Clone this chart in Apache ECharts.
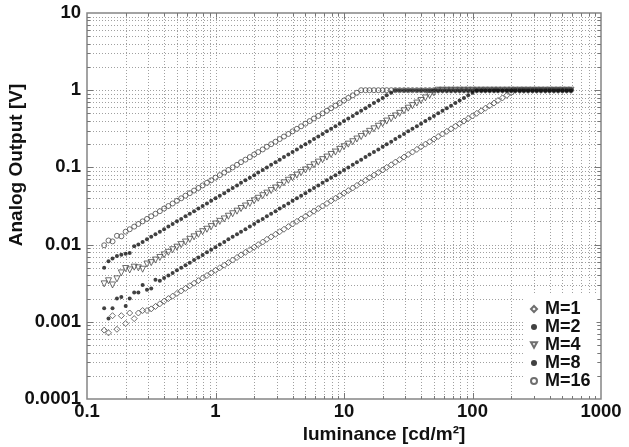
<!DOCTYPE html>
<html><head><meta charset="utf-8">
<script src="https://cdn.jsdelivr.net/npm/echarts@6/dist/echarts.min.js"></script>
<style>html,body{margin:0;padding:0;background:#fff}#c{width:629px;height:447px}</style>
</head><body><div id="c"></div>
<script>
const luminance = [
0.136,0.147,0.158,0.171,0.185,0.200,0.215,0.233,0.251,0.271,0.293,0.316,0.341,0.369,0.398,0.430,0.464,0.501,0.541,0.584,0.631,0.681,0.736,0.794,0.858,0.926,
1.00,1.08,1.17,1.26,1.36,1.47,1.58,1.71,1.85,2.00,2.15,2.33,2.51,2.71,2.93,3.16,3.41,3.69,3.98,4.30,4.64,5.01,5.41,5.84,6.31,6.81,7.36,7.94,8.58,9.26,
10.0,10.8,11.7,12.6,13.6,14.7,15.8,17.1,18.5,20.0,21.5,23.3,25.1,27.1,29.3,31.6,34.1,36.9,39.8,43.0,46.4,50.1,54.1,58.4,63.1,68.1,73.6,79.4,85.8,92.6,
100,108,117,126,136,147,158,171,185,200,215,233,251,271,293,316,341,369,398,430,464,501,541,584];

const outM1 = [
0.00078,0.00072,0.0012,0.00080,0.0012,0.00095,
0.0013,0.0011,0.0013,0.0014,0.0014,0.00147,0.00158,0.00171,0.00185,0.00200,0.00215,0.00233,0.00251,0.00271,0.00293,0.00316,0.00341,0.00369,0.00398,0.00430,0.00464,0.00501,0.00541,0.00584,0.00631,0.00681,0.00736,0.00794,0.00858,0.00926,
0.0100,0.0108,0.0117,0.0126,0.0136,0.0147,0.0158,0.0171,0.0185,0.0200,0.0215,0.0233,0.0251,0.0271,0.0293,0.0316,0.0341,0.0369,0.0398,0.0430,0.0464,0.0501,0.0541,0.0584,0.0631,0.0681,0.0736,0.0794,0.0858,0.0926,
0.100,0.108,0.117,0.126,0.136,0.147,0.158,0.171,0.185,0.200,0.215,0.233,0.251,0.271,0.293,0.316,0.341,0.369,0.398,0.430,0.464,0.501,0.541,0.584,0.631,0.681,0.736,0.794,0.858,0.926,
1,1,1,1,1,1,1,1,1,1,1,1,1,1];

const outM2 = [
0.0015,0.0011,0.0015,0.0020,0.0021,0.0016,0.0020,0.0024,0.0024,0.0030,0.0026,0.0027,0.0035,0.0034,0.00369,0.00398,0.00430,0.00464,0.00501,0.00541,0.00584,0.00631,0.00681,0.00736,0.00794,0.00858,0.00926,
0.0100,0.0108,0.0117,0.0126,0.0136,0.0147,0.0158,0.0171,0.0185,0.0200,0.0215,0.0233,0.0251,0.0271,0.0293,0.0316,0.0341,0.0369,0.0398,0.0430,0.0464,0.0501,0.0541,0.0584,0.0631,0.0681,0.0736,0.0794,0.0858,0.0926,
0.100,0.108,0.117,0.126,0.136,0.147,0.158,0.171,0.185,0.200,0.215,0.233,0.251,0.271,0.293,0.316,0.341,0.369,0.398,0.430,0.464,0.501,0.541,0.584,0.631,0.681,0.736,0.794,0.858,0.926,
1,1,1,1,1,1,1,1,1,1,1,1,1,1,1,1,1,1,1,1,1,1,1];

const outM4 = [
0.0031,0.0034,0.0030,0.0036,0.0043,0.0049,0.0047,0.0051,0.0050,0.0048,0.0056,0.00584,0.00631,0.00681,0.00736,0.00794,0.00858,0.00926,
0.0100,0.0108,0.0117,0.0126,0.0136,0.0147,0.0158,0.0171,0.0185,0.0200,0.0215,0.0233,0.0251,0.0271,0.0293,0.0316,0.0341,0.0369,0.0398,0.0430,0.0464,0.0501,0.0541,0.0584,0.0631,0.0681,0.0736,0.0794,0.0858,0.0926,
0.100,0.108,0.117,0.126,0.136,0.147,0.158,0.171,0.185,0.200,0.215,0.233,0.251,0.271,0.293,0.316,0.341,0.369,0.398,0.430,0.464,0.501,0.541,0.584,0.631,0.681,0.736,0.794,0.858,0.926,
1,1,1,1,1,1,1,1,1,1,1,1,1,1,1,1,1,1,1,1,1,1,1,1,1,1,1,1,1,1,1,1];

const outM8 = [
0.0050,0.0061,0.0066,0.0071,0.0074,0.0076,0.0078,0.0095,
0.0100,0.0108,0.0117,0.0126,0.0136,0.0147,0.0158,0.0171,0.0185,0.0200,0.0215,0.0233,0.0251,0.0271,0.0293,0.0316,0.0341,0.0369,0.0398,0.0430,0.0464,0.0501,0.0541,0.0584,0.0631,0.0681,0.0736,0.0794,0.0858,0.0926,
0.100,0.108,0.117,0.126,0.136,0.147,0.158,0.171,0.185,0.200,0.215,0.233,0.251,0.271,0.293,0.316,0.341,0.369,0.398,0.430,0.464,0.501,0.541,0.584,0.631,0.681,0.736,0.794,0.858,0.926,
1,1,1,1,1,1,1,1,1,1,1,1,1,1,1,1,1,1,1,1,1,1,1,1,1,1,1,1,1,1,1,1,1,1,1,1,1,1,1,1,1,1];

const outM16 = [
0.0098,0.0113,0.0110,0.0130,0.0128,0.0147,0.0158,0.0171,0.0185,0.0200,0.0215,0.0233,0.0251,0.0271,0.0293,0.0316,0.0341,0.0369,0.0398,0.0430,0.0464,0.0501,0.0541,0.0584,0.0631,0.0681,0.0736,0.0794,0.0858,0.0926,
0.100,0.108,0.117,0.126,0.136,0.147,0.158,0.171,0.185,0.200,0.215,0.233,0.251,0.271,0.293,0.316,0.341,0.369,0.398,0.430,0.464,0.501,0.541,0.584,0.631,0.681,0.736,0.794,0.858,0.926,
1,1,1,1,1,1,1,1,1,1,1,1,1,1,1,1,1,1,1,1,1,1,1,1,1,1,1,1,1,1,1,1,1,1,1,1,1,1,1,1,1,1,1,1,1,1,1,1,1,1];

const seriesNames = ['M=1','M=2','M=4','M=8','M=16'];
const xTickLabels = ['0.1','1','10','100','1000'];
const yTickLabels = ['0.0001','0.001','0.01','0.1','1','10'];
const xTitle = 'luminance [cd/m\u00B2]';
const yTitle = 'Analog Output [V]';

const FONT = '"Liberation Sans", Arial, Helvetica, sans-serif';

function pairs(ys){ return luminance.map((x,i)=>[x, ys[i]]); }
function fmt(labels){
  return function(v){
    for (const l of labels){ if (Math.abs(Math.log10(Number(l)) - Math.log10(v)) < 1e-6) return l; }
    return '';
  };
}
function logGrid(labels){
  const out=[]; const lo=Number(labels[0]), hi=Number(labels[labels.length-1]);
  for (let d=0; d<labels.length-1; d++){
    const base=Number(labels[d]);
    for (let k=1;k<=9;k++){ const v=base*k; if (v>lo*1.0001 && v<hi*0.9999) out.push([v,k===1?1:0]); }
  }
  return out;
}
const xg = logGrid(xTickLabels).map(a=>[a[0], 1, a[1]]);
const yg = logGrid(yTickLabels).map(a=>[1, a[0], a[1]]);
const GRID_COLOR = '#a0a0a0';
const TICK_COLOR = '#777';

function vRender(params, api){
  const cs = params.coordSys;
  const p = api.coord([api.value(0), 1]);
  const x = Math.round(p[0]) + 0.5;
  const len = api.value(2) ? 6 : 3;
  return {type:'group', children:[
    {type:'line', shape:{x1:x,y1:cs.y,x2:x,y2:cs.y+cs.height}, style:{stroke:GRID_COLOR,lineWidth:1,lineDash:[1,2]}},
    {type:'line', shape:{x1:x,y1:cs.y+cs.height,x2:x,y2:cs.y+cs.height-len}, style:{stroke:TICK_COLOR,lineWidth:1}},
    {type:'line', shape:{x1:x,y1:cs.y,x2:x,y2:cs.y+len}, style:{stroke:TICK_COLOR,lineWidth:1}}
  ]};
}
function hRender(params, api){
  const cs = params.coordSys;
  const p = api.coord([1, api.value(1)]);
  const y = Math.round(p[1]) + 0.5;
  const len = api.value(2) ? 6 : 3;
  return {type:'group', children:[
    {type:'line', shape:{x1:cs.x,y1:y,x2:cs.x+cs.width,y2:y}, style:{stroke:GRID_COLOR,lineWidth:1,lineDash:[1,2]}},
    {type:'line', shape:{x1:cs.x,y1:y,x2:cs.x+len,y2:y}, style:{stroke:TICK_COLOR,lineWidth:1}},
    {type:'line', shape:{x1:cs.x+cs.width,y1:y,x2:cs.x+cs.width-len,y2:y}, style:{stroke:TICK_COLOR,lineWidth:1}}
  ]};
}

const openStyle = {color:'rgba(255,255,255,0)', borderColor:'#4a4a4a', borderWidth:1};
const fillStyle = {color:'#111', borderWidth:0};

const dataSeries = [
  {name:seriesNames[0], data:pairs(outM1), symbol:'diamond', symbolSize:6, itemStyle:openStyle, z:4},
  {name:seriesNames[1], data:pairs(outM2), symbol:'circle', symbolSize:4, itemStyle:fillStyle, z:6},
  {name:seriesNames[2], data:pairs(outM4), symbol:'triangle', symbolRotate:180, symbolSize:6, itemStyle:openStyle, z:3},
  {name:seriesNames[3], data:pairs(outM8), symbol:'circle', symbolSize:4, itemStyle:fillStyle, z:5},
  {name:seriesNames[4], data:pairs(outM16), symbol:'circle', symbolSize:5, itemStyle:openStyle, z:2}
].map(s=>Object.assign({type:'scatter', silent:true}, s));

const legendIcons = ['diamond','circle','path://M0,0L10,0L5,9Z','circle','circle'];

const chart = echarts.init(document.getElementById('c'), null, {renderer:'canvas'});
chart.setOption({
  animation:false,
  backgroundColor:'#fff',
  textStyle:{fontFamily:FONT},
  grid:{left:87, right:28, top:13, bottom:48, show:true, borderColor:'#858585', borderWidth:1.5, backgroundColor:'#fff'},
  xAxis:{type:'log', logBase:10, min:0.1, max:1000,
    axisLine:{show:false}, axisTick:{show:false}, splitLine:{show:false},
    axisLabel:{formatter:fmt(xTickLabels), fontSize:18.5, fontWeight:'bold', color:'#111', fontFamily:FONT, margin:3, showMinLabel:true, showMaxLabel:true}},
  yAxis:{type:'log', logBase:10, min:0.0001, max:10,
    axisLine:{show:false}, axisTick:{show:false}, splitLine:{show:false},
    axisLabel:{formatter:fmt(yTickLabels), fontSize:18.5, fontWeight:'bold', color:'#111', fontFamily:FONT, margin:6, showMinLabel:true, showMaxLabel:true}},
  legend:{data:seriesNames.map((n,i)=>({name:n, icon:legendIcons[i]})), orient:'vertical', left:524, top:294, backgroundColor:'#fff', padding:[6,6,6,6],
    itemWidth:6, itemHeight:6, itemGap:0, selectedMode:false,
    textStyle:{fontSize:18, fontWeight:'bold', color:'#111', fontFamily:FONT, lineHeight:17, padding:[0,0,0,3]}},
  graphic:[
    {type:'text', x:384, y:435, style:{text:xTitle, font:'bold 19px '+FONT, fill:'#111', textAlign:'center', textVerticalAlign:'middle'}},
    {type:'text', x:17, y:165, rotation:Math.PI/2, style:{text:yTitle, font:'bold 19px '+FONT, fill:'#111', textAlign:'center', textVerticalAlign:'middle'}}
  ],
  series:[
    {type:'custom', name:'xgrid', silent:true, z:1, clip:false, data:xg, encode:{x:0,y:1}, renderItem:vRender},
    {type:'custom', name:'ygrid', silent:true, z:1, clip:false, data:yg, encode:{x:0,y:1}, renderItem:hRender}
  ].concat(dataSeries)
});
</script></body></html>
